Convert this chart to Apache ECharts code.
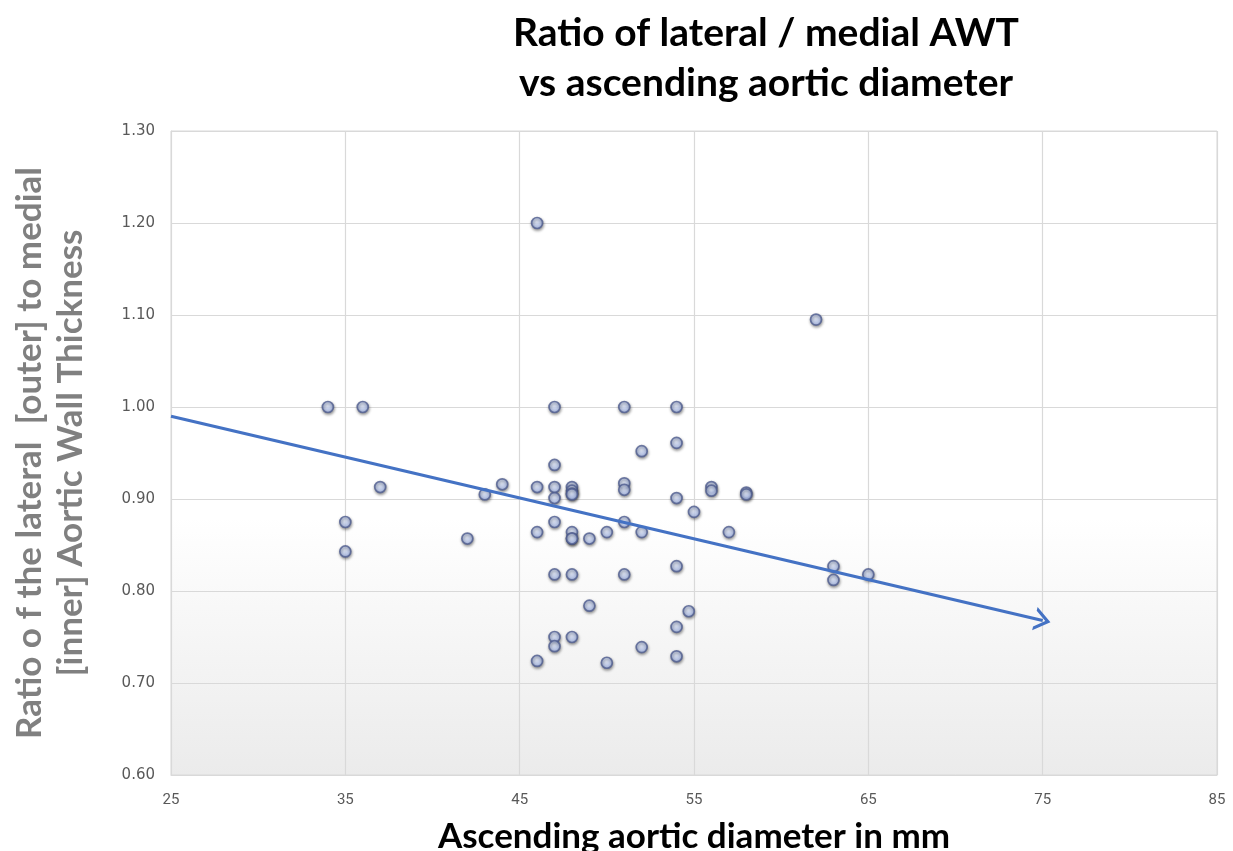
<!DOCTYPE html>
<html>
<head>
<meta charset="utf-8">
<script src="https://cdn.jsdelivr.net/npm/echarts@6/dist/echarts.min.js"></script>
<style>
html,body{margin:0;padding:0;background:#fff;}
#chart{width:1233px;height:851px;}
</style>
</head>
<body>
<div id="chart"></div>
<script>
// Ascending aortic diameter (mm)
const diameter = [34,36,37,35,35,42,43,44,46,46,46,46,47,47,47,47,47,47,47,47,
  48,48,48,48,48,48,48,48,48,49,49,50,50,51,51,51,51,51,52,52,52,
  54,54,54,54,54,54,54.7,55,56,56,57,58,58,62,63,63,65];
// Ratio lateral / medial AWT
const ratio = [1.00,1.00,0.913,0.875,0.843,0.857,0.905,0.916,1.20,0.913,0.864,0.724,
  1.00,0.937,0.913,0.901,0.875,0.818,0.750,0.740,
  0.913,0.909,0.906,0.905,0.864,0.857,0.857,0.818,0.750,0.857,0.784,0.864,0.722,
  1.00,0.917,0.910,0.875,0.818,0.952,0.864,0.739,
  1.00,0.961,0.901,0.827,0.761,0.729,0.778,0.886,0.913,0.909,0.864,0.907,0.905,
  1.095,0.827,0.812,0.818];
// Trend line end points
const trendStart = [25, 0.990];
const trendEnd = [75, 0.768];
// Axis ticks
const xMin = 25, xMax = 85, xLabelStep = 10;
const yMin = 0.6, yMax = 1.3, yStep = 0.1;

const points = diameter.map((d, i) => [d, ratio[i]]);

const chart = echarts.init(document.getElementById('chart'));
chart.setOption({
  animation: false,
  title: {
    text: 'Ratio of lateral / medial AWT\nvs ascending aortic diameter',
    left: 761, top: 3, textAlign: 'center',
    textStyle: {fontFamily: 'Lato', fontWeight: 'bold', fontSize: 39, color: '#000', lineHeight: 50}
  },
  grid: {
    left: 171, right: 16, top: 131, bottom: 76,
    containLabel: false, outerBoundsMode: 'none',
    show: true, borderColor: '#d9d9d9', borderWidth: 1,
    backgroundColor: {type: 'linear', x: 0, y: 0, x2: 0, y2: 1,
      colorStops: [{offset: 0, color: '#ffffff'}, {offset: 0.6, color: '#ffffff'}, {offset: 1, color: '#ebebeb'}]}
  },
  xAxis: {
    type: 'value', min: xMin, max: xMax, interval: 5,
    name: 'Ascending aortic diameter in mm',
    nameLocation: 'middle', nameGap: 44,
    nameTextStyle: {fontFamily: 'Lato', fontWeight: 'bold', fontSize: 35, color: '#000'},
    axisLine: {show: true, lineStyle: {color: '#d9d9d9'}},
    axisTick: {show: false},
    axisLabel: {
      margin: 18, color: '#595959', fontSize: 15, fontFamily: 'Liberation Sans Narrow, Roboto, sans-serif',
      formatter: v => ((v - xMin) % xLabelStep === 0 ? String(v) : '')
    },
    splitLine: {show: true, lineStyle: {color: ['#d9d9d9', 'rgba(0,0,0,0)'], width: 1.2}}
  },
  yAxis: {
    type: 'value', min: yMin, max: yMax, interval: yStep,
    name: 'Ratio o f the lateral  [outer] to medial\n[inner] Aortic Wall Thickness',
    nameLocation: 'middle', nameGap: 80, nameRotate: 90,
    nameTextStyle: {fontFamily: 'Lato', fontWeight: 'bold', fontSize: 35, color: '#808080', lineHeight: 41, align: 'center'},
    axisLine: {show: true, lineStyle: {color: '#d9d9d9'}},
    axisTick: {show: false},
    axisLabel: {margin: 16, color: '#595959', fontSize: 15, fontFamily: 'DejaVu Sans, sans-serif',
      formatter: v => v.toFixed(2)},
    splitLine: {show: true, lineStyle: {color: '#d9d9d9', width: 1.2}}
  },
  series: [
    {
      type: 'scatter',
      data: points,
      symbol: 'circle',
      symbolSize: 11,
      itemStyle: {
        color: {type: 'radial', x: 0.45, y: 0.4, r: 0.6,
          colorStops: [{offset: 0, color: '#e6eeff'}, {offset: 1, color: '#a6baf0'}]},
        borderColor: '#4f5d8e', borderWidth: 1.7,
        shadowBlur: 3, shadowColor: 'rgba(0,0,0,0.45)', shadowOffsetX: 0.5, shadowOffsetY: 1.5
      },
      z: 3
    },
    {
      type: 'line',
      data: [],
      markLine: {
        silent: true,
        symbol: ['none', 'path://M0,12 L6,0 L12,12 L10,12 L6,4 L2,12 Z'],
        symbolSize: [24, 16],
        label: {show: false},
        lineStyle: {color: '#4472c4', width: 3.2, type: 'solid'},
        data: [[{coord: trendStart}, {coord: trendEnd}]]
      },
      z: 2
    }
  ]
});
</script>
</body>
</html>
